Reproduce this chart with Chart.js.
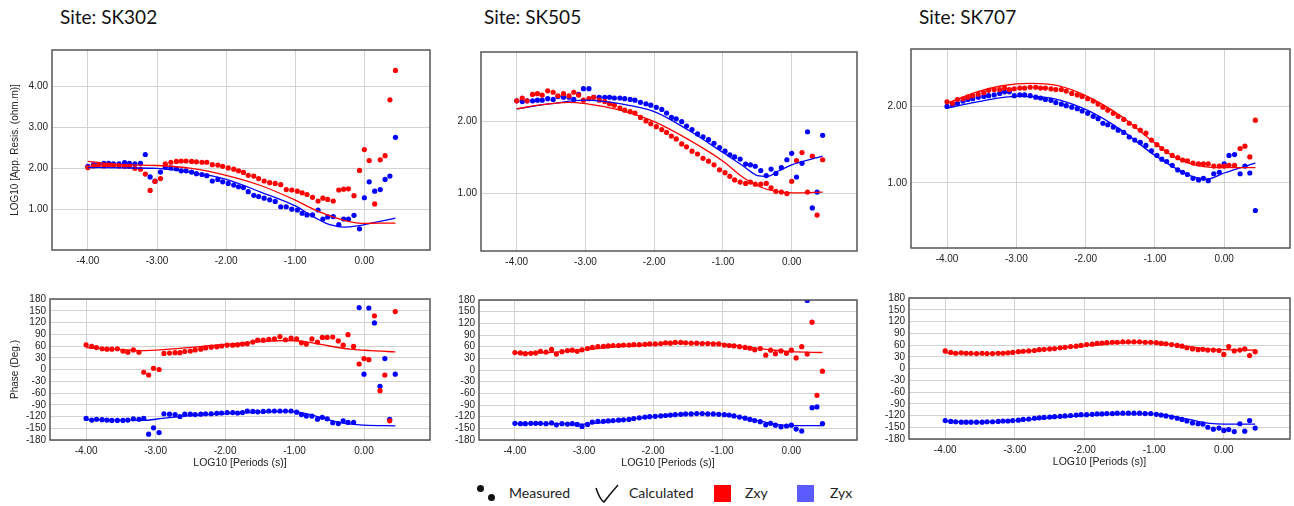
<!DOCTYPE html>
<html>
<head>
<meta charset="utf-8">
<script src="https://cdn.jsdelivr.net/npm/chart.js@4.4.0/dist/chart.umd.min.js"></script>
<style>
  body { margin: 0; width: 1294px; height: 506px; background: #fff; position: relative; overflow: hidden; font-family: Lato, "Open Sans", sans-serif; }
  .site { position: absolute; top: 5px; font-size: 19px; color: #111; line-height: 24px; }
  .leg { position: absolute; top: 484px; font-size: 14px; color: #222; line-height: 18px; }
  .dot { position: absolute; width: 7px; height: 7px; border-radius: 50%; background: #111; }
  .sq { position: absolute; top: 485px; width: 17px; height: 17px; }
</style>
</head>
<body>
<div class="site" style="left:60px">Site: SK302</div>
<div class="site" style="left:484px">Site: SK505</div>
<div class="site" style="left:919px">Site: SK707</div>

<div class="dot" style="left:477px;top:485px"></div>
<div class="dot" style="left:488px;top:494px"></div>
<div class="leg" style="left:509px">Measured</div>
<svg style="position:absolute;left:590px;top:480px" width="34" height="26">
  <path d="M6,8 Q10,20 14,22 Q20,14 28,5" fill="none" stroke="#111" stroke-width="1.5"/>
</svg>
<div class="leg" style="left:629px">Calculated</div>
<div class="sq" style="left:714px;background:#ff0000"></div>
<div class="leg" style="left:745px">Zxy</div>
<div class="sq" style="left:797px;background:#5b5bff"></div>
<div class="leg" style="left:830px">Zyx</div>

<script>
// log10 period of each measured sample (same sampling at all three sites)
const periods = [
  -4.00, -3.92, -3.85, -3.77, -3.70, -3.63, -3.55, -3.47, -3.40, -3.32,
  -3.24, -3.17, -3.10, -3.03, -2.95, -2.88, -2.80, -2.72, -2.65, -2.58,
  -2.50, -2.43, -2.35, -2.28, -2.20, -2.12, -2.05, -1.97, -1.89, -1.82,
  -1.75, -1.68, -1.60, -1.53, -1.45, -1.37, -1.29, -1.21, -1.13, -1.05,
  -0.97, -0.90, -0.83, -0.75, -0.67, -0.60, -0.53, -0.45, -0.37, -0.30,
  -0.23, -0.15, -0.07, 0.00, 0.07, 0.15, 0.23, 0.30, 0.37, 0.45
];
const xTicks = [-4, -3, -2, -1, 0];
const phaseTicks = [-180, -150, -120, -90, -60, -30, 0, 30, 60, 90, 120, 150, 180];

// SK302 measured
const sk302RhoXY = [
  2.02, 2.06, 2.07, 2.06, 2.08, 2.07, 2.06, 2.05, 2.05, 2.00,
  1.98, 1.86, 1.46, 1.68, 1.75, 2.11, 2.15, 2.17, 2.18, 2.18,
  2.17, 2.16, 2.15, 2.15, 2.09, 2.08, 2.05, 2.01, 1.98, 1.94,
  1.90, 1.83, 1.81, 1.75, 1.69, 1.65, 1.63, 1.60, 1.48, 1.47,
  1.44, 1.40, 1.36, 1.29, 1.20, 1.27, 1.24, 1.20, 1.47, 1.49,
  1.50, 1.33, 1.95, 2.46, 2.19, 1.13, 2.21, 2.31, 3.68, 4.40
];
const sk302RhoYX = [
  2.05, 2.09, 2.10, 2.12, 2.12, 2.11, 2.11, 2.14, 2.12, 2.11,
  2.12, 2.34, 1.79, 1.69, 1.91, 2.03, 2.01, 1.99, 1.94, 1.94,
  1.91, 1.87, 1.85, 1.82, 1.69, 1.73, 1.67, 1.63, 1.59, 1.55,
  1.53, 1.43, 1.34, 1.31, 1.27, 1.23, 1.19, 1.06, 1.06, 1.00,
  0.98, 0.90, 0.86, 0.86, 0.98, 0.76, 0.81, 0.82, 0.62, 0.76,
  0.76, 0.85, 0.52, 1.28, 1.67, 1.44, 1.48, 1.73, 1.81, 2.76
];
const sk302PhaXY = [
  63, 59, 56, 53, 52, 52, 53, 47, 44, 50,
  44, -7, -14, 3, 0, 41, 42, 43, 43, 46,
  47, 50, 52, 55, 57, 58, 60, 62, 62, 63,
  65, 66, 70, 75, 75, 77, 78, 84, 76, 80,
  78, 68, 65, 78, 70, 82, 82, 83, 73, 62,
  89, 59, 14, 28, 25, 137, -54, -14, -131, 148
];
const sk302PhaYX = [
  -125, -129, -127, -128, -129, -130, -130, -130, -129, -126,
  -127, -125, -165, -149, -161, -113, -114, -115, -120, -114,
  -114, -115, -114, -113, -113, -112, -111, -110, -110, -111,
  -110, -106, -107, -108, -107, -106, -106, -106, -106, -106,
  -109, -115, -119, -119, -127, -122, -126, -136, -138, -131,
  -135, -135, 158, -12, 157, 119, -43, 28, -127, -12
];
// SK302 calculated [log10 T, value]
const sk302CalcRhoXY = [[-4, 2.17], [-3.5, 2.09], [-3, 2.07], [-2.5, 2.0], [-2, 1.83], [-1.5, 1.58], [-1, 1.22], [-0.7, 0.97], [-0.4, 0.78], [-0.2, 0.69], [0, 0.65], [0.2, 0.66], [0.45, 0.66]];
const sk302CalcRhoYX = [[-4, 2.02], [-3.5, 2.01], [-3, 2.0], [-2.5, 1.9], [-2, 1.73], [-1.5, 1.42], [-1, 1.08], [-0.7, 0.78], [-0.5, 0.62], [-0.3, 0.56], [-0.1, 0.59], [0.1, 0.66], [0.45, 0.78]];
const sk302CalcPhaXY = [[-4, 56], [-3.5, 51], [-3.2, 48], [-2.8, 52], [-2.4, 58], [-2, 64], [-1.5, 71], [-1.1, 74], [-0.85, 71], [-0.5, 60], [-0.2, 52], [0.1, 48], [0.45, 45]];
const sk302CalcPhaYX = [[-4, -128], [-3.5, -129], [-3.2, -130], [-2.9, -125], [-2.5, -118], [-2, -113], [-1.5, -109], [-1.1, -107], [-0.85, -112], [-0.6, -124], [-0.3, -137], [0, -142], [0.45, -144]];

// SK505 measured
const sk505RhoXY = [
  2.29, 2.33, 2.29, 2.38, 2.39, 2.37, 2.43, 2.41, 2.36, 2.39,
  2.36, 2.41, 2.37, 2.30, 2.32, 2.34, 2.30, 2.28, 2.25, 2.23,
  2.19, 2.16, 2.14, 2.12, 2.06, 2.01, 1.97, 1.93, 1.89, 1.85,
  1.80, 1.76, 1.69, 1.65, 1.59, 1.55, 1.49, 1.45, 1.40, 1.33,
  1.29, 1.24, 1.19, 1.16, 1.14, 1.16, 1.13, 1.13, 1.14, 1.08,
  1.03, 1.02, 1.00, 1.17, 1.46, 1.57, 1.02, 1.52, 0.70, 1.47
];
const sk505RhoYX = [
  2.29, 2.28, 2.29, 2.29, 2.30, 2.30, 2.32, 2.31, 2.35, 2.34,
  2.34, 2.31, 2.38, 2.46, 2.46, 2.34, 2.34, 2.34, 2.34, 2.33,
  2.33, 2.32, 2.31, 2.30, 2.27, 2.25, 2.23, 2.20, 2.17, 2.12,
  2.06, 2.04, 2.00, 1.94, 1.89, 1.83, 1.79, 1.75, 1.70, 1.64,
  1.59, 1.54, 1.51, 1.48, 1.41, 1.40, 1.38, 1.32, 1.25, 1.34,
  1.28, 1.36, 1.47, 1.56, 1.23, 1.42, 1.86, 0.80, 1.02, 1.81
];
const sk505PhaXY = [
  45, 44, 42, 43, 44, 48, 46, 53, 41, 47,
  50, 51, 48, 52, 55, 58, 60, 61, 62, 63,
  63, 64, 64, 65, 65, 66, 67, 67, 68, 70,
  69, 71, 71, 70, 69, 69, 68, 68, 67, 67,
  64, 63, 62, 60, 58, 56, 52, 55, 38, 51,
  42, 49, 43, 51, 31, 60, 41, 123, -65, -3
];
const sk505PhaYX = [
  -137, -138, -138, -137, -137, -137, -138, -136, -141, -138,
  -139, -138, -140, -145, -140, -134, -132, -132, -131, -130,
  -129, -128, -127, -125, -123, -121, -120, -119, -118, -117,
  -116, -115, -114, -113, -113, -112, -112, -113, -113, -114,
  -115, -116, -118, -121, -124, -127, -130, -133, -141, -137,
  -142, -146, -144, -142, -152, -157, 179, -97, -95, -138
];
const sk505CalcRhoXY = [[-4, 2.18], [-3.6, 2.24], [-3.25, 2.27], [-3, 2.25], [-2.5, 2.16], [-2, 2.0], [-1.5, 1.75], [-1, 1.45], [-0.7, 1.22], [-0.4, 1.07], [-0.15, 1.02], [0.1, 1.01], [0.45, 1.02]];
const sk505CalcRhoYX = [[-4, 2.18], [-3.5, 2.25], [-3, 2.30], [-2.5, 2.25], [-2, 2.14], [-1.5, 1.88], [-1, 1.57], [-0.7, 1.38], [-0.5, 1.25], [-0.35, 1.24], [-0.2, 1.31], [0, 1.40], [0.45, 1.52]];
const sk505CalcPhaXY = [[-4, 44], [-3.5, 45], [-3, 52], [-2.5, 60], [-2, 65], [-1.6, 69], [-1.2, 69], [-0.9, 65], [-0.6, 58], [-0.3, 52], [0, 47], [0.45, 45]];
const sk505CalcPhaYX = [[-4, -138], [-3.5, -138], [-3, -139], [-2.5, -130], [-2, -120], [-1.5, -113], [-1.2, -112], [-0.9, -116], [-0.6, -126], [-0.3, -137], [0, -143], [0.45, -143]];

// SK707 measured
const sk707RhoXY = [
  2.06, 2.04, 2.09, 2.10, 2.12, 2.14, 2.16, 2.18, 2.21, 2.22,
  2.22, 2.24, 2.22, 2.23, 2.24, 2.24, 2.25, 2.25, 2.24, 2.24,
  2.23, 2.22, 2.22, 2.20, 2.17, 2.15, 2.13, 2.10, 2.07, 2.03,
  1.99, 1.95, 1.91, 1.87, 1.83, 1.78, 1.74, 1.69, 1.65, 1.56,
  1.50, 1.45, 1.41, 1.36, 1.33, 1.30, 1.29, 1.26, 1.25, 1.25,
  1.25, 1.22, 1.22, 1.22, 1.23, 1.23, 1.45, 1.48, 1.34, 1.82
];
const sk707RhoYX = [
  2.00, 2.02, 2.04, 2.07, 2.09, 2.10, 2.12, 2.13, 2.14, 2.15,
  2.17, 2.19, 2.19, 2.14, 2.15, 2.15, 2.14, 2.12, 2.11, 2.09,
  2.08, 2.05, 2.03, 2.01, 1.99, 1.97, 1.94, 1.91, 1.87, 1.84,
  1.78, 1.76, 1.73, 1.69, 1.66, 1.60, 1.56, 1.53, 1.49, 1.42,
  1.36, 1.31, 1.28, 1.23, 1.17, 1.14, 1.11, 1.06, 1.04, 1.06,
  1.03, 1.12, 1.14, 1.25, 1.36, 1.37, 1.12, 1.22, 1.13, 0.64
];
const sk707PhaXY = [
  45, 41, 39, 40, 39, 39, 38, 39, 38, 38,
  39, 39, 40, 41, 43, 44, 45, 46, 48, 49,
  50, 51, 53, 54, 56, 57, 59, 61, 62, 64,
  65, 66, 67, 67, 68, 68, 68, 68, 67, 67,
  66, 64, 63, 61, 59, 57, 53, 50, 48, 49,
  47, 47, 46, 36, 56, 45, 47, 50, 33, 43
];
const sk707PhaYX = [
  -133, -135, -136, -137, -137, -137, -137, -137, -136, -136,
  -135, -134, -134, -133, -132, -130, -129, -127, -126, -125,
  -124, -123, -122, -121, -120, -119, -118, -118, -117, -116,
  -116, -115, -115, -114, -114, -114, -114, -114, -115, -115,
  -117, -119, -121, -124, -127, -130, -134, -139, -141, -142,
  -150, -155, -152, -158, -156, -161, -141, -160, -133, -152
];
const sk707CalcRhoXY = [[-4, 2.04], [-3.6, 2.18], [-3.2, 2.27], [-2.8, 2.30], [-2.4, 2.27], [-2, 2.14], [-1.5, 1.88], [-1, 1.52], [-0.7, 1.33], [-0.4, 1.23], [0, 1.20], [0.45, 1.20]];
const sk707CalcRhoYX = [[-4, 1.98], [-3.5, 2.07], [-3, 2.13], [-2.6, 2.12], [-2, 1.96], [-1.5, 1.70], [-1, 1.36], [-0.5, 1.10], [-0.25, 1.05], [0, 1.13], [0.45, 1.26]];
const sk707CalcPhaXY = [[-4, 40], [-3.5, 38], [-3, 42], [-2.5, 50], [-2, 58], [-1.5, 65], [-1.2, 67], [-0.9, 65], [-0.6, 58], [-0.3, 51], [0, 48], [0.45, 47]];
const sk707CalcPhaYX = [[-4, -135], [-3.5, -137], [-3, -133], [-2.5, -126], [-2, -120], [-1.5, -116], [-1.1, -115], [-0.8, -120], [-0.5, -130], [-0.2, -140], [0, -142], [0.45, -142]];

const RED = 'rgb(255, 0, 0)';
const BLUE = 'rgb(0, 0, 255)';
const AXIS_FONT = { family: '"Liberation Sans", Arial, sans-serif', size: 10 };

// dark frame round the plot area
const frame = {
  id: 'frame',
  afterDraw(chart) {
    const a = chart.chartArea, ctx = chart.ctx;
    ctx.save();
    ctx.strokeStyle = '#555';
    ctx.lineWidth = 1.5;
    ctx.strokeRect(a.left, a.top, a.right - a.left, a.bottom - a.top);
    ctx.restore();
  }
};

const panels = [
  { box: [0, 40, 434, 232], yW: 52, xH: 22, ymin: 0, ymax: 4.9, yTicks: [1, 2, 3, 4], rho: true,
    yTitle: 'LOG10 [App. Resis. (ohm.m)]', meas: [sk302RhoXY, sk302RhoYX], calc: [sk302CalcRhoXY, sk302CalcRhoYX] },
  { box: [440, 42, 421, 231], yW: 41, xH: 22, ymin: 0.2, ymax: 2.97, yTicks: [1, 2], rho: true,
    meas: [sk505RhoXY, sk505RhoYX], calc: [sk505CalcRhoXY, sk505CalcRhoYX] },
  { box: [870, 39, 424, 231], yW: 41, xH: 22, ymin: 0.15, ymax: 2.75, yTicks: [1, 2], rho: true,
    meas: [sk707RhoXY, sk707RhoYX], calc: [sk707CalcRhoXY, sk707CalcRhoYX] },
  { box: [0, 289, 434, 183], yW: 50, xH: 32, ymin: -180, ymax: 180, yTicks: phaseTicks,
    yTitle: 'Phase (Deg.)', xTitle: 'LOG10 [Periods (s)]', meas: [sk302PhaXY, sk302PhaYX], calc: [sk302CalcPhaXY, sk302CalcPhaYX] },
  { box: [440, 290, 421, 182], yW: 39, xH: 32, ymin: -180, ymax: 180, yTicks: phaseTicks,
    xTitle: 'LOG10 [Periods (s)]', meas: [sk505PhaXY, sk505PhaYX], calc: [sk505CalcPhaXY, sk505CalcPhaYX] },
  { box: [870, 288, 424, 183], yW: 39, xH: 32, ymin: -180, ymax: 180, yTicks: phaseTicks,
    xTitle: 'LOG10 [Periods (s)]', meas: [sk707PhaXY, sk707PhaYX], calc: [sk707CalcPhaXY, sk707CalcPhaYX] }
];

function lineSet(pairs, color) {
  return {
    data: pairs.map(p => ({ x: p[0], y: p[1] })),
    showLine: true, borderColor: color, borderWidth: 1.3,
    pointRadius: 0, cubicInterpolationMode: 'monotone', fill: false
  };
}
function pointSet(values, color) {
  return {
    data: values.map((v, i) => ({ x: periods[i], y: v })),
    showLine: false, pointRadius: 2.6, pointBorderWidth: 0,
    pointBackgroundColor: color, borderColor: color
  };
}

panels.forEach(p => {
  const cv = document.createElement('canvas');
  cv.width = p.box[2];
  cv.height = p.box[3];
  cv.style.cssText = `position:absolute;left:${p.box[0]}px;top:${p.box[1]}px;width:${p.box[2]}px;height:${p.box[3]}px`;
  document.body.appendChild(cv);

  new Chart(cv, {
    type: 'scatter',
    data: {
      datasets: [
        lineSet(p.calc[0], RED), lineSet(p.calc[1], BLUE),
        pointSet(p.meas[0], RED), pointSet(p.meas[1], BLUE)
      ]
    },
    options: {
      responsive: false, animation: false, devicePixelRatio: 1,
      layout: { padding: { top: 8, right: 1, left: 0, bottom: 0 } },
      plugins: { legend: { display: false }, tooltip: { enabled: false } },
      scales: {
        x: {
          type: 'linear', min: -4.52, max: 0.95,
          afterBuildTicks: s => { s.ticks = xTicks.map(v => ({ value: v })); },
          afterFit: s => { s.height = p.xH; },
          grid: { color: '#d2d2d2', drawTicks: false },
          border: { display: false },
          ticks: { padding: 5, font: AXIS_FONT, color: '#222', maxRotation: 0, autoSkip: false,
                   callback: v => v.toFixed(2) },
          title: { display: !!p.xTitle, text: p.xTitle || '', font: { ...AXIS_FONT, size: 10.5 }, color: '#222',
                   padding: { top: 0, bottom: 3 } }
        },
        y: {
          type: 'linear', min: p.ymin, max: p.ymax,
          afterBuildTicks: s => { s.ticks = p.yTicks.map(v => ({ value: v })); },
          afterFit: s => { s.width = p.yW; },
          grid: { color: '#d2d2d2', drawTicks: false },
          border: { display: false },
          ticks: { padding: 4, font: AXIS_FONT, color: '#222', autoSkip: false,
                   callback: v => p.rho ? v.toFixed(2) : String(v) },
          title: { display: !!p.yTitle, text: p.yTitle || '', font: AXIS_FONT, color: '#222',
                   padding: { top: 9, bottom: 0 } }
        }
      }
    },
    plugins: [frame]
  });
});
</script>
</body>
</html>
